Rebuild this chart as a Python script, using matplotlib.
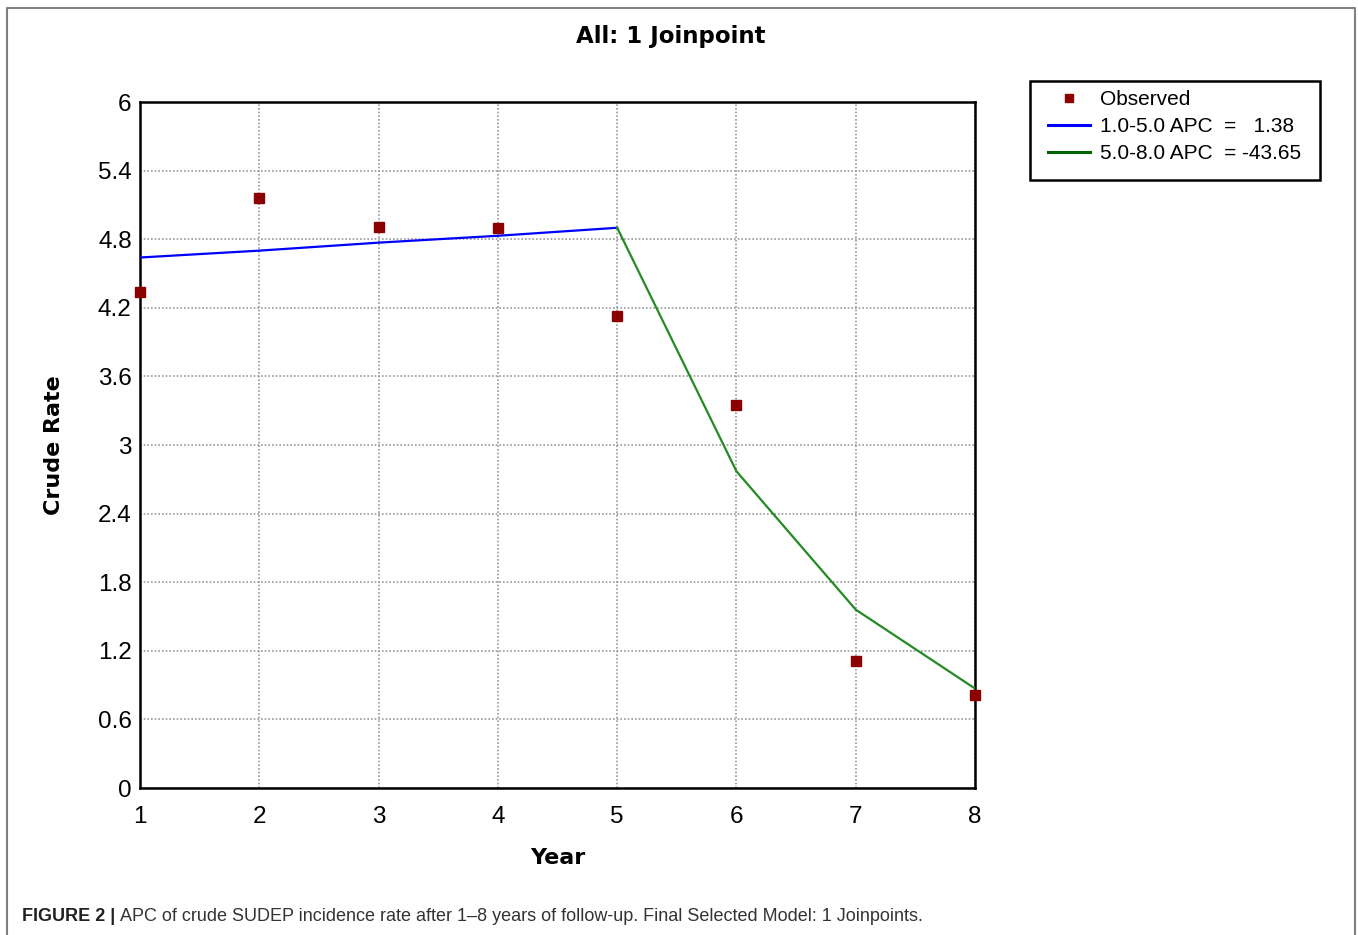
import matplotlib
matplotlib.use("Agg")
import matplotlib.pyplot as plt
from matplotlib.lines import Line2D
from matplotlib.patches import Rectangle

# data
years = [1, 2, 3, 4, 5, 6, 7, 8]
observed = [4.34, 5.16, 4.91, 4.90, 4.13, 3.35, 1.11, 0.81]

seg1_years = [1, 2, 3, 4, 5]
seg1_fit = [4.64, 4.70, 4.77, 4.83, 4.90]
seg2_years = [5, 6, 7, 8]
seg2_fit = [4.90, 2.77, 1.56, 0.87]

yticks = [0, 0.6, 1.2, 1.8, 2.4, 3, 3.6, 4.2, 4.8, 5.4, 6]
ytick_labels = ["0", "0.6", "1.2", "1.8", "2.4", "3", "3.6", "4.2", "4.8", "5.4", "6"]

legend_labels = ["Observed", "1.0-5.0 APC  =   1.38", "5.0-8.0 APC  = -43.65"]

tick_font = ["Liberation Sans", "DejaVu Sans"]

fig = plt.figure(figsize=(13.58, 9.35), dpi=100)
ax = fig.add_axes([0.1031, 0.1572, 0.6149, 0.7337])

ax.plot(seg1_years, seg1_fit, color="#0000ff", linewidth=1.6, zorder=3)
ax.plot(seg2_years, seg2_fit, color="#238b23", linewidth=1.6, zorder=3)
ax.plot(years, observed, linestyle="none", marker="s", markersize=7.5,
        color="#8b0000", zorder=4, clip_on=False)

ax.set_xlim(1, 8)
ax.set_ylim(0, 6)
ax.set_xticks(years)
ax.set_xticklabels([str(y) for y in years], family=tick_font, fontsize=17.5)
ax.set_yticks(yticks)
ax.set_yticklabels(ytick_labels, family=tick_font, fontsize=17.5)
ax.tick_params(axis="both", length=0)
ax.tick_params(axis="x", pad=13)
ax.tick_params(axis="y", pad=6)
ax.grid(True, color="#9a9a9a", linestyle=(0, (1, 1.2)), linewidth=1.2)
for s in ax.spines.values():
    s.set_linewidth(1.8)
    s.set_color("black")

ax.set_xlabel("Year", fontsize=16, fontweight="bold", family="DejaVu Sans", labelpad=14)
ax.set_ylabel("Crude Rate", fontsize=16, fontweight="bold", family="DejaVu Sans", labelpad=24)

fig.text(0.494, 0.961, "All: 1 Joinpoint", ha="center", va="center",
         fontsize=16.5, fontweight="bold", family="DejaVu Sans")

handles = [
    Line2D([], [], linestyle="none", marker="s", markersize=6, color="#8b0000"),
    Line2D([], [], color="#0000ff", linewidth=2.2),
    Line2D([], [], color="#006400", linewidth=2.2),
]
leg = fig.legend(handles, legend_labels, loc="upper left",
                 bbox_to_anchor=(1048 / 1358, 1 - 90 / 935), frameon=False,
                 prop={"family": tick_font, "size": 15}, handlelength=2.0,
                 handletextpad=0.5, labelspacing=0.38, borderpad=0,
                 borderaxespad=0)

# legend box
fig.add_artist(Rectangle((1030 / 1358, 1 - 180 / 935), 290 / 1358, 99 / 935,
                         transform=fig.transFigure, fill=False,
                         edgecolor="black", linewidth=1.8))

# outer panel frame (open at the bottom)
fig.add_artist(Line2D([0.0055, 0.0055, 0.9975, 0.9975], [0.0, 0.9915, 0.9915, 0.0],
                      transform=fig.transFigure, color="#808080", linewidth=1.5))

# caption
cap = fig.text(0.0165, 0.02, "FIGURE 2 |", fontsize=13, fontweight="bold",
               family=["Liberation Sans", "DejaVu Sans"], color="#222222", va="center")
fig.canvas.draw()
bb = cap.get_window_extent()
x0 = (bb.x1 + 4) / fig.bbox.width
fig.text(x0, 0.02, "APC of crude SUDEP incidence rate after 1\u20138 years of follow-up. "
         "Final Selected Model: 1 Joinpoints.", fontsize=13,
         family=["Liberation Sans", "DejaVu Sans"], color="#333333", va="center")

fig.savefig("out.png", dpi=100)
